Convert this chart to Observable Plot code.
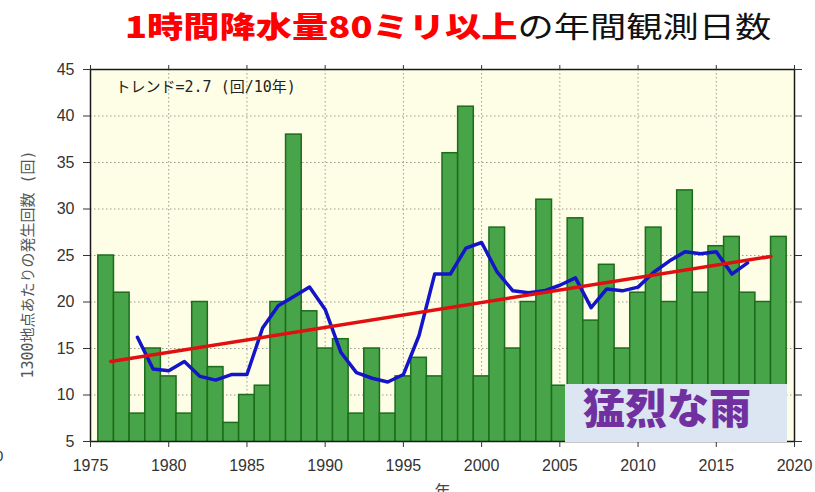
<!DOCTYPE html>
<html><head><meta charset="utf-8">
<script src="https://cdn.jsdelivr.net/npm/d3@7"></script>
<script src="https://cdn.jsdelivr.net/npm/@observablehq/plot@0.6"></script>
<style>
body{margin:0;background:#fff;}
#wrap{position:relative;width:815px;height:492px;overflow:hidden;}
#title{position:relative;height:60px;}
#title .t{position:absolute;left:125px;top:11px;font-family:"Noto Sans CJK JP";font-size:29px;line-height:1;white-space:nowrap;transform:scaleX(1.25);transform-origin:left top;}
.red{color:#ff0000;font-weight:800;}
.blk{color:#111;font-weight:400;}
#box{position:absolute;left:565px;top:384px;width:222px;height:58px;background:#dce6f2;}
#box span{position:absolute;left:18px;top:1px;font-family:"Noto Sans CJK JP";font-weight:900;font-size:42px;line-height:1;color:#7030a0;white-space:nowrap;}
#stray{position:absolute;left:-5px;top:447px;font-family:"Liberation Sans";font-size:15px;color:#333;}
</style></head>
<body>
<div id="wrap">
  <div id="title"><div class="t"><span class="red">1時間降水量80ミリ以上</span><span class="blk">の年間観測日数</span></div></div>
  <div id="chart"></div>
  <div id="box"><span>猛烈な雨</span></div>
  <div id="stray">0</div>
</div>
<script>
const years = [1976,1977,1978,1979,1980,1981,1982,1983,1984,1985,1986,1987,1988,1989,1990,1991,1992,1993,1994,1995,1996,1997,1998,1999,2000,2001,2002,2003,2004,2005,2006,2007,2008,2009,2010,2011,2012,2013,2014,2015,2016,2017,2018,2019];
const counts = [25,21,8,15,12,8,20,13,7,10,11,20,38,19,15,16,8,15,8,12,14,12,36,41,12,28,15,20,31,11,29,18,24,15,21,28,20,32,21,26,27,21,20,27];
const maYears = [1978,1979,1980,1981,1982,1983,1984,1985,1986,1987,1988,1989,1990,1991,1992,1993,1994,1995,1996,1997,1998,1999,2000,2001,2002,2003,2004,2005,2006,2007,2008,2009,2010,2011,2012,2013,2014,2015,2016,2017];
const maValues = [16.2,12.8,12.6,13.6,12.0,11.6,12.2,12.2,17.2,19.6,20.6,21.6,19.2,14.6,12.4,11.8,11.4,12.2,16.4,23.0,23.0,25.8,26.4,23.2,21.2,21.0,21.2,21.8,22.6,19.4,21.4,21.2,21.6,23.2,24.4,25.4,25.2,25.4,23.0,24.2];
const trendYears = [1976.3, 2018.5];
const trendValues = [13.6, 24.9];
const xTicks = [1975,1980,1985,1990,1995,2000,2005,2010,2015,2020];
const yTicks = [5,10,15,20,25,30,35,40,45];
const trendLabel = "トレンド=2.7 (回/10年)";
const yLabel = "1300地点あたりの発生回数 (回)";
const xLabel = "年";

const bars = years.map((y, i) => ({year: y, count: counts[i]}));
const ma = maYears.map((y, i) => ({year: y, v: maValues[i]}));
const trend = trendYears.map((y, i) => ({year: y, v: trendValues[i]}));

const chart = Plot.plot({
  width: 815,
  height: 432,
  marginTop: 9,
  marginBottom: 51,
  marginLeft: 90,
  marginRight: 21,
  style: {fontFamily: "Liberation Sans, Noto Sans CJK JP", fontSize: "16px", background: "transparent"},
  x: {domain: [1975, 2020]},
  y: {domain: [5, 45]},
  marks: [
    Plot.frame({fill: "#fefee6", stroke: null}),
    Plot.gridX({ticks: xTicks.slice(1, -1), stroke: "#9a9a8c", strokeOpacity: 1, strokeDasharray: "1.5,2.5", strokeWidth: 1}),
    Plot.gridY({ticks: yTicks.slice(1, -1), stroke: "#9a9a8c", strokeOpacity: 1, strokeDasharray: "1.5,2.5", strokeWidth: 1}),
    Plot.rectY(bars, {x1: d => d.year - 0.5, x2: d => d.year + 0.5, y: "count", fill: "#48a448", stroke: "#1c6c1c", strokeWidth: 1.5, clip: true}),
    Plot.line(ma, {x: "year", y: "v", stroke: "#1414c8", strokeWidth: 3.5}),
    Plot.line(trend, {x: "year", y: "v", stroke: "#e01010", strokeWidth: 3.5}),
    Plot.frame({stroke: "#1a1a1a", strokeWidth: 1.5}),
    Plot.axisX({anchor: "bottom", ticks: xTicks, tickFormat: d => String(d), tickSize: 6, tickPadding: 12, label: null, color: "#333", fontSize: 16}),
    Plot.axisX({anchor: "top", ticks: xTicks, tickFormat: () => "", tickSize: 5, label: null, color: "#333"}),
    Plot.axisY({anchor: "left", ticks: yTicks, tickSize: 7, tickPadding: 9, label: null, color: "#333", fontSize: 16}),
    Plot.axisY({anchor: "right", ticks: yTicks, tickFormat: () => "", tickSize: 7, label: null, color: "#333"}),
    Plot.text([trendLabel], {frameAnchor: "top-left", dx: 25, dy: 18, lineAnchor: "middle", textAnchor: "start", fontFamily: "DejaVu Sans Mono, Noto Sans CJK JP", fontSize: 15, fill: "#222"}),
    Plot.text([yLabel], {frameAnchor: "left", rotate: -90, dx: -62, dy: 9, textAnchor: "middle", lineAnchor: "middle", fontFamily: "DejaVu Sans Mono, Noto Sans CJK JP", fontSize: 15, fill: "#555"}),
    Plot.text([xLabel], {frameAnchor: "bottom", dy: 44, lineAnchor: "top", textAnchor: "middle", fontFamily: "Noto Sans CJK JP", fontSize: 16, fill: "#444"})
  ]
});
document.getElementById("chart").appendChild(chart);
</script>
</body></html>
